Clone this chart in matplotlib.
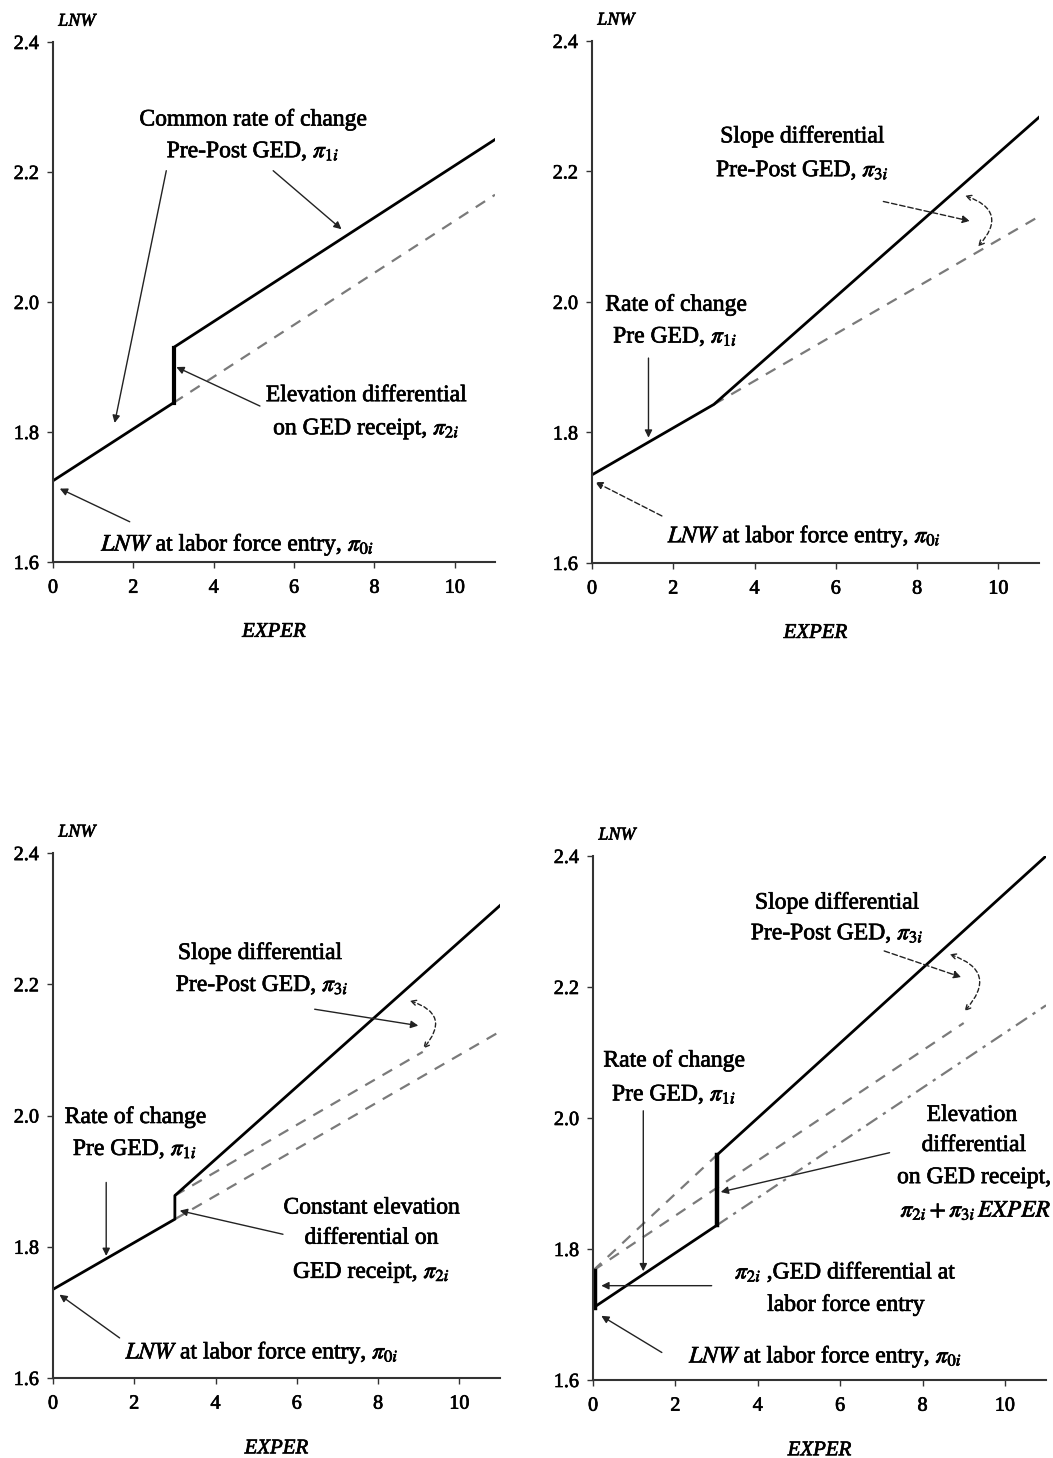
import matplotlib
matplotlib.use("Agg")
import matplotlib.pyplot as plt
import matplotlib.patheffects as pe

plt.rcParams['font.family'] = ['Liberation Serif', 'DejaVu Serif']
plt.rcParams['mathtext.fontset'] = 'stix'

# ── data (EXPER, LNW) ──────────────────────────────────────────────────
x_ticks = [0, 2, 4, 6, 8, 10]
y_ticks = [1.6, 1.8, 2.0, 2.2, 2.4]

# panel 1: elevation differential only
p1_solid_x = [0, 3, 3, 11]
p1_solid_y = [1.725, 1.845, 1.93, 2.25]
p1_dash_x = [3, 11]
p1_dash_y = [1.845, 2.165]

# panel 2: slope differential only
p2_solid_x = [0, 3, 11]
p2_solid_y = [1.735, 1.843, 2.283]
p2_dash_x = [3, 11]
p2_dash_y = [1.843, 2.131]

# panel 3: constant elevation + slope differential
p3_solid_x = [0, 3, 3, 11]
p3_solid_y = [1.735, 1.842, 1.878, 2.32]
p3_dash_lo_x = [3, 11]
p3_dash_lo_y = [1.842, 2.128]
p3_dash_hi_x = [3, 9.1]
p3_dash_hi_y = [1.878, 2.097]

# panel 4: GED and GED x EXPER
p4_solid_x = [0, 3, 3, 11]
p4_solid_y = [1.71, 1.836, 1.943, 2.40]
p4_back_x = [0, 3]
p4_back_y = [1.767, 1.943]
p4_mid_x = [0, 9.0]
p4_mid_y = [1.767, 2.145]
p4_lo_x = [3, 11]
p4_lo_y = [1.836, 2.172]
p4_bar0_y = [1.71, 1.767]

FS = 17
HEAVY = [pe.withStroke(linewidth=0.5, foreground="black")]
DASH = dict(color="#7a7a7a", lw=1.6, linestyle=(0, (5, 4)))


def setup(ax):
    ax.set_xlim(0, 11)
    ax.set_ylim(1.6, 2.4)
    ax.set_xticks(x_ticks)
    ax.set_yticks(y_ticks)
    ax.set_yticklabels([f"{v:.1f}" for v in y_ticks])
    for s in ("top", "right"):
        ax.spines[s].set_visible(False)
    for s in ("left", "bottom"):
        ax.spines[s].set_linewidth(1.5)
        ax.spines[s].set_color("#333333")
    ax.tick_params(axis="both", direction="out", length=4, width=1,
                   labelsize=14.5, color="#333333")
    ax.tick_params(axis="x", pad=8)
    ax.tick_params(axis="y", pad=6)
    for t in ax.get_xticklabels() + ax.get_yticklabels():
        t.set_path_effects(HEAVY)
    ax.set_facecolor("none")
    ax.text(0.012, 1.04, "LNW", transform=ax.transAxes, fontsize=13,
            style="italic", ha="left", va="center", path_effects=HEAVY)
    ax.text(5.5, -0.135, "EXPER", transform=ax.get_xaxis_transform(),
            fontsize=15, style="italic", ha="center", va="center",
            path_effects=HEAVY)


def arrow(ax, start, end, ls="-"):
    ax.annotate("", xy=end, xytext=start,
                arrowprops=dict(arrowstyle="-|>", lw=1.0, color="#222222",
                                linestyle=ls, shrinkA=0, shrinkB=0,
                                mutation_scale=11))


def arc(ax, start, end, rad=-0.75):
    ax.annotate("", xy=end, xytext=start,
                arrowprops=dict(arrowstyle="<->", lw=1.0, color="#222222",
                                linestyle=(0, (3, 2)), shrinkA=0, shrinkB=0,
                                connectionstyle=f"arc3,rad={rad}",
                                mutation_scale=9))


def label(ax, x, y, s):
    ax.text(x, y, s, fontsize=FS, ha="center", va="center",
            path_effects=HEAVY)


fig = plt.figure(figsize=(10.53, 14.58), dpi=100)
ax1 = fig.add_axes([0.0503, 0.6145, 0.4198, 0.3567])
ax2 = fig.add_axes([0.5622, 0.6139, 0.4245, 0.3580])
ax3 = fig.add_axes([0.0503, 0.0549, 0.4245, 0.3600])
ax4 = fig.add_axes([0.5632, 0.0535, 0.4302, 0.3594])
for ax in (ax1, ax2, ax3, ax4):
    setup(ax)

# ── panel 1 ────────────────────────────────────────────────────────────
ax1.plot(p1_dash_x, p1_dash_y, **DASH)
ax1.plot(p1_solid_x, p1_solid_y, color="black", lw=2.0)
ax1.plot(p1_solid_x[1:3], p1_solid_y[1:3], color="black", lw=3.0)
label(ax1, 4.98, 2.28, "Common rate of change")
label(ax1, 4.98, 2.231, r"Pre-Post GED, $\pi_{1i}$")
arrow(ax1, (2.82, 2.202), (1.535, 1.814))
arrow(ax1, (5.48, 2.202), (7.18, 2.112))
label(ax1, 7.8, 1.856, "Elevation differential")
label(ax1, 7.8, 1.804, r"on GED receipt, $\pi_{2i}$")
arrow(ax1, (5.15, 1.84), (3.07, 1.90))
label(ax1, 4.6, 1.626, r"$\mathit{LNW}$ at labor force entry, $\pi_{0i}$")
arrow(ax1, (1.91, 1.662), (0.17, 1.713))

# ── panel 2 ────────────────────────────────────────────────────────────
ax2.plot(p2_dash_x, p2_dash_y, **DASH)
ax2.plot(p2_solid_x, p2_solid_y, color="black", lw=2.0)
label(ax2, 5.18, 2.253, "Slope differential")
label(ax2, 5.18, 2.201, r"Pre-Post GED, $\pi_{3i}$")
arrow(ax2, (7.17, 2.154), (9.3, 2.124), ls=(0, (4, 2)))
arc(ax2, (9.18, 2.163), (9.5, 2.085))
label(ax2, 2.07, 1.995, "Rate of change")
label(ax2, 2.05, 1.946, r"Pre GED, $\pi_{1i}$")
arrow(ax2, (1.39, 1.914), (1.39, 1.792))
label(ax2, 5.23, 1.64, r"$\mathit{LNW}$ at labor force entry, $\pi_{0i}$")
arrow(ax2, (1.72, 1.672), (0.08, 1.724), ls=(0, (4, 2)))

# ── panel 3 ────────────────────────────────────────────────────────────
ax3.plot(p3_dash_lo_x, p3_dash_lo_y, **DASH)
ax3.plot(p3_dash_hi_x, p3_dash_hi_y, **DASH)
ax3.plot(p3_solid_x, p3_solid_y, color="black", lw=2.0)
label(ax3, 5.1, 2.247, "Slope differential")
label(ax3, 5.15, 2.198, r"Pre-Post GED, $\pi_{3i}$")
arrow(ax3, (6.44, 2.162), (8.99, 2.137))
arc(ax3, (8.78, 2.175), (9.11, 2.102))
label(ax3, 2.03, 1.997, "Rate of change")
label(ax3, 2.02, 1.948, r"Pre GED, $\pi_{1i}$")
arrow(ax3, (1.31, 1.898), (1.31, 1.786))
label(ax3, 7.84, 1.859, "Constant elevation")
label(ax3, 7.84, 1.813, "differential on")
label(ax3, 7.84, 1.76, r"GED receipt, $\pi_{2i}$")
arrow(ax3, (5.66, 1.819), (3.12, 1.855))
label(ax3, 5.15, 1.638, r"$\mathit{LNW}$ at labor force entry, $\pi_{0i}$")
arrow(ax3, (1.64, 1.661), (0.16, 1.727))

# ── panel 4 ────────────────────────────────────────────────────────────
ax4.plot(p4_back_x, p4_back_y, **DASH)
ax4.plot(p4_mid_x, p4_mid_y, **DASH)
ax4.plot(p4_lo_x, p4_lo_y, color="#7a7a7a", lw=1.6,
         linestyle=(0, (6, 3, 1.5, 3)))
ax4.plot(p4_solid_x, p4_solid_y, color="black", lw=2.0)
ax4.plot(p4_solid_x[1:3], p4_solid_y[1:3], color="black", lw=3.2)
ax4.plot([0.04, 0.04], p4_bar0_y, color="black", lw=3.2, clip_on=False)
label(ax4, 5.93, 2.328, "Slope differential")
label(ax4, 5.93, 2.281, r"Pre-Post GED, $\pi_{3i}$")
arrow(ax4, (7.07, 2.255), (8.94, 2.215), ls=(0, (4, 2)))
arc(ax4, (8.66, 2.25), (9.02, 2.163))
label(ax4, 1.97, 2.087, "Rate of change")
label(ax4, 1.97, 2.035, r"Pre GED, $\pi_{1i}$")
arrow(ax4, (1.22, 2.011), (1.22, 1.766))
label(ax4, 9.2, 2.004, "Elevation")
label(ax4, 9.25, 1.958, "differential")
label(ax4, 9.25, 1.909, "on GED receipt,")
label(ax4, 9.3, 1.859, r"$\pi_{2i}+\pi_{3i}\,\mathit{EXPER}$")
arrow(ax4, (7.2, 1.947), (3.1, 1.887))
label(ax4, 6.14, 1.764, r"$\pi_{2i}$ ,GED differential at")
label(ax4, 6.14, 1.714, "labor force entry")
arrow(ax4, (2.88, 1.744), (0.2, 1.744))
label(ax4, 5.65, 1.635, r"$\mathit{LNW}$ at labor force entry, $\pi_{0i}$")
arrow(ax4, (1.67, 1.642), (0.2, 1.698))

fig.savefig("out.png", dpi=100)
